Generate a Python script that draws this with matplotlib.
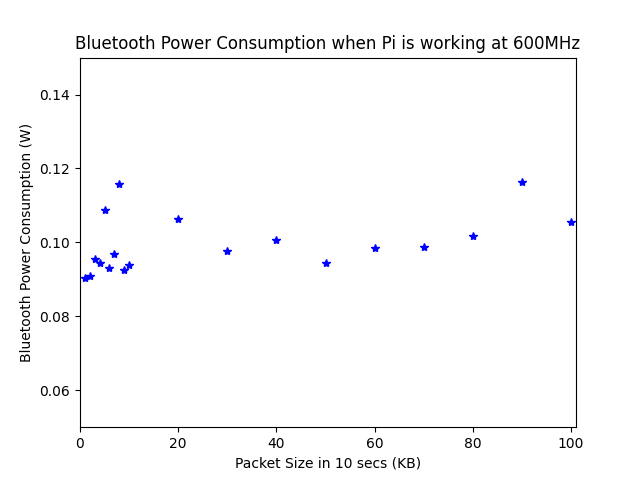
import matplotlib
matplotlib.use('Agg')
import matplotlib.pyplot as plt

packet_size = [1, 2, 3, 4, 5, 6, 7, 8, 9, 10, 20, 30, 40, 50, 60, 70, 80, 90, 100]
power = [0.0903, 0.0910, 0.0955, 0.0944, 0.1087, 0.0931, 0.0969, 0.1158, 0.0925, 0.0938,
         0.1063, 0.0977, 0.1007, 0.0944, 0.0985, 0.0988, 0.1018, 0.1164, 0.1056]

fig, ax = plt.subplots(figsize=(6.4, 4.8), dpi=100)
ax.plot(packet_size, power, 'b*')
ax.set_xlim(0, 101)
ax.set_ylim(0.05, 0.15)
ax.set_title('Bluetooth Power Consumption when Pi is working at 600MHz')
ax.set_xlabel('Packet Size in 10 secs (KB)')
ax.set_ylabel('Bluetooth Power Consumption (W)')
fig.savefig('out.png')
